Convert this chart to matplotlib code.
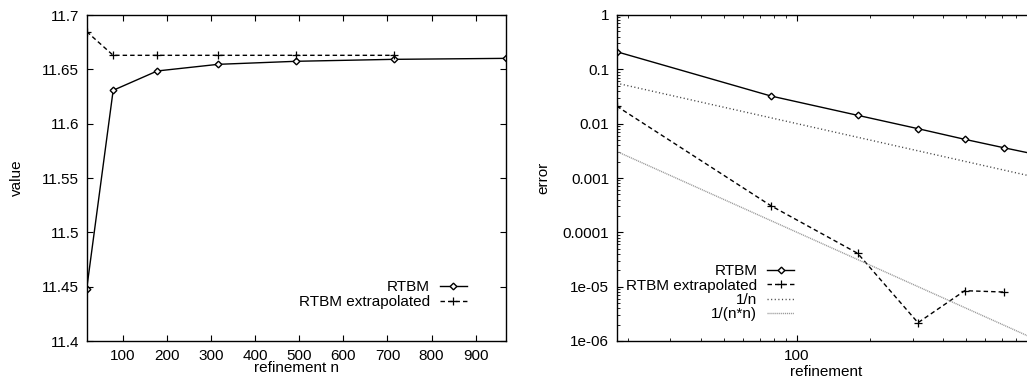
import matplotlib
matplotlib.use("Agg")
import matplotlib.pyplot as plt
import numpy as np
from matplotlib.ticker import FixedLocator, FuncFormatter, LogLocator, NullFormatter

plt.rcParams['font.family'] = ['Liberation Sans', 'DejaVu Sans']
plt.rcParams['font.size'] = 11

# ---- data ----
n = [18, 78, 178, 316, 493, 714, 968]
rtbm_value = [11.448, 11.6307, 11.6485, 11.6546, 11.6574, 11.6592, 11.6601]
n_extrap = [18, 78, 178, 316, 493, 714]
extrap_value = [11.6847, 11.6629, 11.6629, 11.6629, 11.6629, 11.6629]

rtbm_error = [0.211, 0.0323, 0.01425, 0.00809, 0.00515, 0.00361, 0.00272]
extrap_error = [0.021, 3.09e-4, 4.11e-5, 2.17e-6, 8.43e-6, 7.97e-6]

value_ticks = [11.4, 11.45, 11.5, 11.55, 11.6, 11.65, 11.7]
n_ticks = [100, 200, 300, 400, 500, 600, 700, 800, 900]
error_ticks = [1e-6, 1e-5, 1e-4, 1e-3, 1e-2, 1e-1, 1]

W, H = 1027, 381
fig = plt.figure(figsize=(W / 100, H / 100), dpi=100)

def px_axes(x0, y0, x1, y1):
    return fig.add_axes([x0 / W, 1 - y1 / H, (x1 - x0) / W, (y1 - y0) / H])

ax1 = px_axes(86.7, 15, 505.7, 341)
ax2 = px_axes(616.7, 15, 1035.7, 341)

gfmt = FuncFormatter(lambda v, p: '%g' % v)

dash = (0, (3.2, 2.2))
dot1 = (0, (0.8, 1.8))
dot2 = (0, (0.8, 0.6))

# ---- left plot ----
ax1.plot(n, rtbm_value, color='black', lw=1.0, marker='D', ms=3.4,
         mfc='white', mec='black', mew=1.0, label='RTBM')
ax1.plot(n_extrap, extrap_value, color='black', lw=1.0, ls=dash, marker='+',
         ms=6, mew=0.9, label='RTBM extrapolated')
ax1.set_xlim(n[0], n[-1])
ax1.set_ylim(value_ticks[0], value_ticks[-1])
ax1.xaxis.set_major_locator(FixedLocator(n_ticks))
ax1.yaxis.set_major_locator(FixedLocator(value_ticks))
ax1.yaxis.set_major_formatter(gfmt)
ax1.set_xlabel('refinement n')
ax1.set_ylabel('value')
ax1.xaxis.set_label_coords(0.5, -0.061)
ax1.yaxis.set_label_coords(-0.150, 0.5)
leg1 = ax1.legend(loc='center right', bbox_to_anchor=(0.907, 0.1417),
                  frameon=False, markerfirst=False, handlelength=1.75,
                  handletextpad=0.65, labelspacing=0.05, borderpad=0,
                  borderaxespad=0, fontsize=11)

# ---- right plot ----
ax2.set_xscale('log')
ax2.set_yscale('log')
ax2.plot(n, rtbm_error, color='black', lw=1.0, marker='D', ms=3.4,
         mfc='white', mec='black', mew=1.0, label='RTBM')
ax2.plot(n_extrap, extrap_error, color='black', lw=1.0, ls=dash, marker='+',
         ms=6, mew=0.9, label='RTBM extrapolated')
n_arr = np.array(n, dtype=float)
ax2.plot(n_arr, 1.0 / n_arr, color='#444444', lw=1.0, ls=dot1, label='1/n')
ax2.plot(n_arr, 1.0 / (n_arr * n_arr), color='#999999', lw=1.0, ls=dot2,
         label='1/(n*n)')
ax2.set_xlim(n[0], n[-1])
ax2.set_ylim(error_ticks[0], error_ticks[-1])
ax2.xaxis.set_major_locator(LogLocator(base=10, numticks=10))
ax2.xaxis.set_minor_locator(LogLocator(base=10, subs=np.arange(2, 10), numticks=20))
ax2.xaxis.set_major_formatter(gfmt)
ax2.xaxis.set_minor_formatter(NullFormatter())
ax2.yaxis.set_major_locator(FixedLocator(error_ticks))
ax2.yaxis.set_minor_locator(LogLocator(base=10, subs=np.arange(2, 10), numticks=20))
ax2.yaxis.set_major_formatter(gfmt)
ax2.yaxis.set_minor_formatter(NullFormatter())
ax2.set_xlabel('refinement')
ax2.set_ylabel('error')
ax2.xaxis.set_label_coords(0.5, -0.075)
ax2.yaxis.set_label_coords(-0.159, 0.5)
leg2 = ax2.legend(loc='center right', bbox_to_anchor=(0.423, 0.148),
                  frameon=False, markerfirst=False, handlelength=1.75,
                  handletextpad=0.65, labelspacing=0.02, borderpad=0,
                  borderaxespad=0, fontsize=11)

for ax in (ax1, ax2):
    for s in ax.spines.values():
        s.set_linewidth(1.0)
    ax.tick_params(which='major', direction='in', length=4, width=0.8,
                   top=True, right=True, pad=5.5, labelsize=11)
    ax.tick_params(which='minor', direction='in', length=2, width=0.6,
                   top=True, right=True)

fig.savefig('out.png', dpi=100)
